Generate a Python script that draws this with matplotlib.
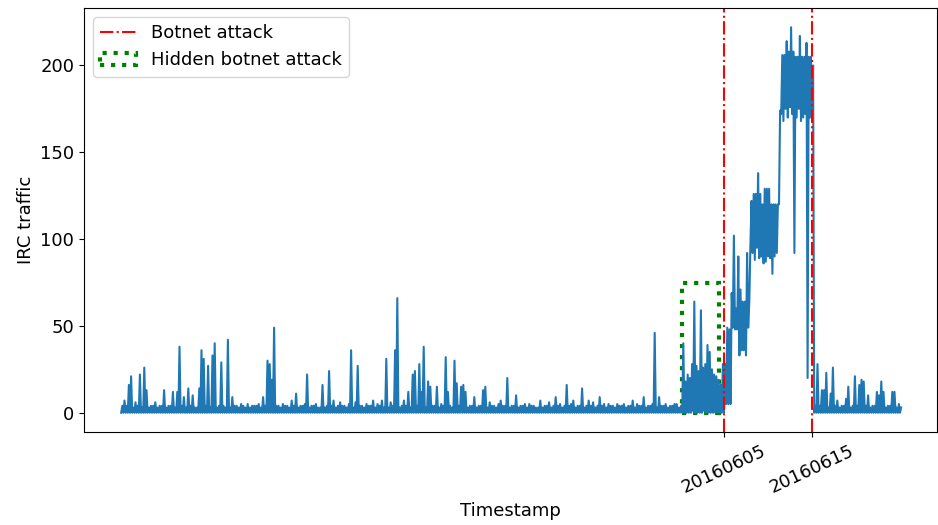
import matplotlib
matplotlib.use("Agg")
import matplotlib.pyplot as plt
import matplotlib.dates as mdates
from matplotlib.patches import Rectangle
import numpy as np
import pandas as pd

# ---- data ----
# each 6-hour window is given by its lowest and highest IRC traffic value
start_time = "2016-03-28 12:00"

before_high = [
    4, 7, 4, 16, 21, 3, 6, 4, 22, 3,
    26, 13, 3, 4, 4, 6, 3, 4, 4, 13,
    3, 4, 4, 12, 3, 12, 38, 4, 9, 3,
    14, 4, 10, 3, 3, 14, 36, 31, 4, 27,
    3, 33, 40, 3, 4, 29, 4, 3, 42, 3,
    9, 4, 4, 3, 5, 4, 3, 5, 3, 4,
    4, 4, 5, 3, 9, 4, 30, 28, 19, 49,
    4, 4, 3, 5, 4, 4, 3, 7, 4, 11,
    3, 4, 4, 5, 22, 3, 4, 4, 5, 3,
    3, 16, 3, 4, 24, 4, 7, 3, 4, 6,
    4, 4, 3, 5, 36, 3, 6, 27, 4, 4,
    3, 5, 4, 4, 7, 3, 5, 4, 7, 3,
    31, 3, 6, 4, 36, 66, 3, 4, 7, 4,
    12, 3, 22, 24, 4, 28, 12, 38, 3, 18,
    15, 4, 4, 15, 3, 5, 4, 32, 12, 4,
    3, 30, 17, 4, 15, 16, 12, 3, 4, 4,
    9, 3, 4, 4, 13, 15, 3, 6, 4, 4,
    3, 5, 7, 4, 4, 20, 3, 4, 4, 10,
    3, 4, 4, 5, 3, 5, 4, 4, 3, 3,
    7, 3, 4, 4, 6, 3, 4, 9, 4, 5,
    3, 4, 16, 4, 5, 7, 3, 4, 4, 14,
    3, 4, 7, 4, 6, 3, 4, 9, 4, 5,
    3, 5, 4, 4, 3, 5, 4, 4, 5, 3,
    4, 4, 7, 3, 5, 4, 4, 9, 3, 4,
    4, 5, 46, 3, 9, 4, 4, 5, 3, 4,
    4, 5, 5, 3, 4,
]
before_low = [
    0, 0, 0, 0, 0, 0, 0, 0, 0, 0, 0, 0, 0, 0, 0,
    0, 0, 0, 0, 0, 0, 0, 0, 0, 0, 0, 0, 0, 0, 0,
    0, 0, 0, 0, 0, 0, 0, 0, 0, 0, 0, 0, 0, 0, 0,
    0, 0, 0, 0, 0, 0, 0, 0, 0, 0, 0, 0, 0, 0, 0,
    0, 0, 0, 0, 0, 0, 0, 0, 0, 0, 0, 0, 0, 0, 0,
    0, 0, 0, 0, 0, 0, 0, 0, 0, 0, 0, 0, 0, 0, 0,
    0, 0, 0, 0, 0, 0, 0, 0, 0, 0, 0, 0, 0, 0, 0,
    0, 0, 0, 0, 0, 0, 0, 0, 0, 0, 0, 0, 0, 0, 0,
    0, 0, 0, 0, 0, 0, 0, 0, 0, 0, 0, 0, 0, 0, 0,
    0, 0, 0, 0, 0, 0, 0, 0, 0, 0, 0, 0, 0, 0, 0,
    0, 0, 0, 0, 0, 0, 0, 0, 0, 0, 0, 0, 0, 0, 0,
    0, 0, 0, 0, 0, 0, 0, 0, 0, 0, 0, 0, 0, 0, 0,
    0, 0, 0, 0, 0, 0, 0, 0, 0, 0, 0, 0, 0, 0, 0,
    0, 0, 0, 0, 0, 0, 0, 0, 0, 0, 0, 0, 0, 0, 0,
    0, 0, 0, 0, 0, 0, 0, 0, 0, 0, 0, 0, 0, 0, 0,
    0, 0, 0, 0, 0, 0, 0, 0, 0, 0, 0, 0, 0, 0, 0,
    0, 0, 0, 0, 0, 0, 0, 0, 0, 0, 0, 0, 0, 0, 0,
]
hidden_high = [40, 18, 22, 20, 28, 64, 27, 24, 59, 26, 28, 39, 35, 25, 22, 21, 19, 16, 28]
hidden_low = [0, 0, 0, 0, 0, 1, 0, 0, 0, 0, 1, 0, 0, 0, 0, 0, 0, 0, 0]
attack_high = [28, 49, 48, 69, 102, 60, 90, 71, 64, 64,
               92, 64, 122, 126, 126, 138, 126, 120, 129, 129,
               129, 120, 120, 120, 120, 174, 206, 206, 214, 208,
               222, 208, 205, 205, 217, 205, 205, 213, 205, 205,
               200]
attack_low = [0, 5, 5, 5, 49, 48, 48, 33, 36, 36,
              33, 49, 96, 92, 88, 95, 89, 90, 86, 87,
              90, 89, 80, 90, 92, 120, 172, 168, 175, 170,
              176, 172, 92, 170, 175, 168, 170, 172, 20, 170,
              170]
after_high = [4, 28, 4, 13, 13, 23, 3, 11, 26, 4,
              7, 3, 4, 4, 8, 15, 3, 4, 21, 4,
              16, 19, 18, 4, 10, 3, 4, 4, 12, 10,
              18, 12, 3, 4, 4, 12, 12, 3, 5, 3]
after_low = [0, 0, 0, 0, 0, 0, 0, 0, 0, 0,
             0, 0, 0, 0, 0, 0, 0, 0, 0, 0,
             0, 0, 0, 0, 0, 0, 0, 0, 0, 0,
             0, 0, 0, 0, 0, 0, 0, 0, 0, 0]

attack_dates = ["2016-06-05", "2016-06-15"]
tick_labels = ["20160605", "20160615"]
hidden_start, hidden_end, hidden_top = "2016-05-31 06:00", "2016-06-04 10:00", 75
x_range = ("2016-03-24 06:33", "2016-06-29 04:55")

lows = before_low + hidden_low + attack_low + after_low
highs = before_high + hidden_high + attack_high + after_high
traffic = np.column_stack([lows, highs]).ravel()
times = pd.date_range(start_time, periods=len(traffic), freq="3h")

# ---- plot ----
plt.rcParams["font.size"] = 13
fig = plt.figure(figsize=(9.38, 5.25), dpi=100)
ax = fig.add_axes([84 / 938, 93 / 525, 853 / 938, 424 / 525])

ax.plot(times, traffic, color="#1f77b4", linewidth=1.5)

for i, d in enumerate(attack_dates):
    ax.axvline(pd.Timestamp(d), color="red", linestyle="-.", linewidth=1.5,
               label="Botnet attack" if i == 0 else None)

x0 = mdates.date2num(pd.Timestamp(hidden_start))
x1 = mdates.date2num(pd.Timestamp(hidden_end))
rect = Rectangle((x0, 0), x1 - x0, hidden_top, fill=False, edgecolor="green",
                 linestyle=":", linewidth=3, label="Hidden botnet attack")
ax.add_patch(rect)

ax.set_xlim(pd.Timestamp(x_range[0]), pd.Timestamp(x_range[1]))
ax.set_xticks([pd.Timestamp(d) for d in attack_dates])
ax.set_xticklabels(tick_labels, rotation=25)
ax.set_yticks([0, 50, 100, 150, 200])
ax.set_xlabel("Timestamp")
ax.set_ylabel("IRC traffic")
ax.legend(loc="upper left")

fig.savefig("out.png", dpi=100)
